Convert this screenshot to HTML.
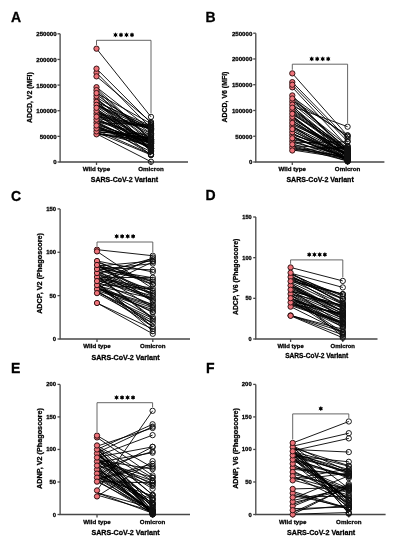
<!DOCTYPE html>
<html><head><meta charset="utf-8"><style>
html,body{margin:0;padding:0;background:#fff;}
svg{display:block;filter:blur(0.3px);}
text{font-family:"Liberation Sans", sans-serif;font-weight:bold;fill:#000;stroke:#000;stroke-width:0.28px;}
.L{font-size:14px;}
.t{font-size:5.9px;}
.c{font-size:6.2px;}
.ti{font-size:7px;}
.s{stroke:#000;stroke-width:0.9;fill:none;}
.ax{stroke:#474747;stroke-width:1.3;}
.br{stroke:#555;stroke-width:0.9;}
.ln{stroke:#000;stroke-width:0.9;}
.dw{fill:#ef7279;stroke:#2a0f0f;stroke-width:0.95;}
.do{fill:none;stroke:#111;stroke-width:0.95;}
</style></head><body>
<svg width="397" height="550" viewBox="0 0 397 550">
<defs><filter id="gs" x="0" y="0" width="397" height="550" filterUnits="userSpaceOnUse"><feColorMatrix type="saturate" values="0"/></filter></defs>
<rect width="397" height="550" fill="#fff"/>
<line x1="57.5" y1="162" x2="60.1" y2="162" class="ax"/>
<line x1="57.5" y1="136.36" x2="60.1" y2="136.36" class="ax"/>
<line x1="57.5" y1="110.72" x2="60.1" y2="110.72" class="ax"/>
<line x1="57.5" y1="85.08" x2="60.1" y2="85.08" class="ax"/>
<line x1="57.5" y1="59.44" x2="60.1" y2="59.44" class="ax"/>
<line x1="57.5" y1="33.8" x2="60.1" y2="33.8" class="ax"/>
<path d="M60.1 33.8 V162 H188" class="ax" fill="none"/>
<line x1="96.5" y1="162" x2="96.5" y2="165" class="ax"/>
<line x1="151" y1="162" x2="151" y2="165" class="ax"/>
<path d="M96.5 45.07 V40.3 H151 V113.27" class="br" fill="none"/>
<circle cx="115.5" cy="34.9" r="1.6" fill="#000"/>
<circle cx="121" cy="34.9" r="1.6" fill="#000"/>
<circle cx="126.5" cy="34.9" r="1.6" fill="#000"/>
<circle cx="132" cy="34.9" r="1.6" fill="#000"/>
<path d="M115.5 32.7V37.1M113.59 33.8L117.41 36M113.59 36L117.41 33.8M121 32.7V37.1M119.09 33.8L122.91 36M119.09 36L122.91 33.8M126.5 32.7V37.1M124.59 33.8L128.41 36M124.59 36L128.41 33.8M132 32.7V37.1M130.09 33.8L133.91 36M130.09 36L133.91 33.8" class="s"/>
<path d="M96.5 48.67L151 116.87M96.5 68.67L151 123.03M96.5 72.77L151 128.16M96.5 76.36L151 122M96.5 98.37L151 142.4M96.5 97.27L151 130.03M96.5 94.69L151 133.57M96.5 93.19L151 123.76M96.5 91.35L151 150.9M96.5 90.22L151 140.23M96.5 88.28L151 139.52M96.5 87.19L151 129.73M96.5 134.32L151 140.05M96.5 134.15L151 137.1M96.5 133.32L151 142.44M96.5 133.06L151 145.29M96.5 132.21L151 134.31M96.5 131.36L151 137.85M96.5 129.49L151 138.92M96.5 129.59L151 139.47M96.5 128.37L151 141.92M96.5 127.2L151 147.01M96.5 126.66L151 143.41M96.5 126.27L151 151.51M96.5 125.6L151 148.27M96.5 125.08L151 141.65M96.5 124.2L151 143M96.5 122.7L151 124.92M96.5 122.7L151 147.83M96.5 121.74L151 148.42M96.5 121.04L151 139.8M96.5 120.34L151 137.02M96.5 119.59L151 139.33M96.5 118.26L151 128.25M96.5 117.61L151 148.46M96.5 116.35L151 128.57M96.5 115.76L151 127.19M96.5 115.53L151 146.42M96.5 114.59L151 144.9M96.5 114.08L151 128.05M96.5 112.81L151 126.75M96.5 111.86L151 150.13M96.5 111.58L151 141.61M96.5 110.88L151 143.58M96.5 109.92L151 148.96M96.5 109.19L151 141.87M96.5 108.47L151 150.85M96.5 106.73L151 143.62M96.5 106.17L151 133.7M96.5 105.51L151 129.66M96.5 105.2L151 126.93M96.5 103.98L151 135.69M96.5 103.14L151 148.79M96.5 102.37L151 125.69M96.5 101.43L151 150.1M96.5 101.56L151 144.98M96.5 100.63L151 130.77M96.5 99.06L151 140.41M96.5 130.21L151 154.23M96.5 122L151 154.44M96.5 112.77L151 155.08M96.5 132.26L151 154.91M96.5 133.8L151 161.74" class="ln" fill="none"/>
<circle cx="96.5" cy="134.32" r="2.65" class="dw"/>
<circle cx="96.5" cy="113.7" r="2.65" class="dw"/>
<circle cx="96.5" cy="131.38" r="2.65" class="dw"/>
<circle cx="96.5" cy="128.43" r="2.65" class="dw"/>
<circle cx="96.5" cy="87.19" r="2.65" class="dw"/>
<circle cx="96.5" cy="72.77" r="2.65" class="dw"/>
<circle cx="96.5" cy="110.75" r="2.65" class="dw"/>
<circle cx="96.5" cy="98.97" r="2.65" class="dw"/>
<circle cx="96.5" cy="101.92" r="2.65" class="dw"/>
<circle cx="96.5" cy="48.67" r="2.65" class="dw"/>
<circle cx="96.5" cy="96.02" r="2.65" class="dw"/>
<circle cx="96.5" cy="122.54" r="2.65" class="dw"/>
<circle cx="96.5" cy="76.36" r="2.65" class="dw"/>
<circle cx="96.5" cy="90.13" r="2.65" class="dw"/>
<circle cx="96.5" cy="104.86" r="2.65" class="dw"/>
<circle cx="96.5" cy="119.59" r="2.65" class="dw"/>
<circle cx="96.5" cy="125.48" r="2.65" class="dw"/>
<circle cx="96.5" cy="93.08" r="2.65" class="dw"/>
<circle cx="96.5" cy="68.67" r="2.65" class="dw"/>
<circle cx="96.5" cy="116.65" r="2.65" class="dw"/>
<circle cx="96.5" cy="107.81" r="2.65" class="dw"/>
<circle cx="151" cy="126.93" r="2.65" class="do"/>
<circle cx="151" cy="128.16" r="2.65" class="do"/>
<circle cx="151" cy="140.05" r="2.65" class="do"/>
<circle cx="151" cy="128.05" r="2.65" class="do"/>
<circle cx="151" cy="147.83" r="2.65" class="do"/>
<circle cx="151" cy="154.23" r="2.65" class="do"/>
<circle cx="151" cy="122" r="2.65" class="do"/>
<circle cx="151" cy="150.1" r="2.65" class="do"/>
<circle cx="151" cy="148.42" r="2.65" class="do"/>
<circle cx="151" cy="139.8" r="2.65" class="do"/>
<circle cx="151" cy="124.92" r="2.65" class="do"/>
<circle cx="151" cy="148.96" r="2.65" class="do"/>
<circle cx="151" cy="150.9" r="2.65" class="do"/>
<circle cx="151" cy="148.79" r="2.65" class="do"/>
<circle cx="151" cy="128.25" r="2.65" class="do"/>
<circle cx="151" cy="147.01" r="2.65" class="do"/>
<circle cx="151" cy="125.69" r="2.65" class="do"/>
<circle cx="151" cy="150.13" r="2.65" class="do"/>
<circle cx="151" cy="123.03" r="2.65" class="do"/>
<circle cx="151" cy="154.44" r="2.65" class="do"/>
<circle cx="151" cy="139.33" r="2.65" class="do"/>
<circle cx="151" cy="141.92" r="2.65" class="do"/>
<circle cx="151" cy="128.57" r="2.65" class="do"/>
<circle cx="151" cy="141.87" r="2.65" class="do"/>
<circle cx="151" cy="150.85" r="2.65" class="do"/>
<circle cx="151" cy="142.44" r="2.65" class="do"/>
<circle cx="151" cy="148.27" r="2.65" class="do"/>
<circle cx="151" cy="130.03" r="2.65" class="do"/>
<circle cx="151" cy="137.1" r="2.65" class="do"/>
<circle cx="151" cy="139.52" r="2.65" class="do"/>
<circle cx="151" cy="143.41" r="2.65" class="do"/>
<circle cx="151" cy="129.73" r="2.65" class="do"/>
<circle cx="151" cy="140.41" r="2.65" class="do"/>
<circle cx="151" cy="161.74" r="2.65" class="do"/>
<circle cx="151" cy="144.98" r="2.65" class="do"/>
<circle cx="151" cy="137.85" r="2.65" class="do"/>
<circle cx="151" cy="116.87" r="2.65" class="do"/>
<circle cx="151" cy="139.47" r="2.65" class="do"/>
<circle cx="151" cy="144.9" r="2.65" class="do"/>
<circle cx="151" cy="126.75" r="2.65" class="do"/>
<circle cx="151" cy="143.62" r="2.65" class="do"/>
<circle cx="151" cy="141.65" r="2.65" class="do"/>
<circle cx="151" cy="123.76" r="2.65" class="do"/>
<circle cx="151" cy="143" r="2.65" class="do"/>
<circle cx="151" cy="142.4" r="2.65" class="do"/>
<circle cx="151" cy="134.31" r="2.65" class="do"/>
<circle cx="151" cy="127.19" r="2.65" class="do"/>
<circle cx="151" cy="130.77" r="2.65" class="do"/>
<circle cx="151" cy="145.29" r="2.65" class="do"/>
<circle cx="151" cy="137.02" r="2.65" class="do"/>
<circle cx="151" cy="143.58" r="2.65" class="do"/>
<circle cx="151" cy="148.46" r="2.65" class="do"/>
<circle cx="151" cy="138.92" r="2.65" class="do"/>
<circle cx="151" cy="151.51" r="2.65" class="do"/>
<circle cx="151" cy="140.23" r="2.65" class="do"/>
<circle cx="151" cy="135.69" r="2.65" class="do"/>
<circle cx="151" cy="133.57" r="2.65" class="do"/>
<circle cx="151" cy="146.42" r="2.65" class="do"/>
<circle cx="151" cy="155.08" r="2.65" class="do"/>
<circle cx="151" cy="141.61" r="2.65" class="do"/>
<circle cx="151" cy="154.91" r="2.65" class="do"/>
<circle cx="151" cy="133.7" r="2.65" class="do"/>
<circle cx="151" cy="129.66" r="2.65" class="do"/>
<line x1="253.2" y1="162" x2="255.8" y2="162" class="ax"/>
<line x1="253.2" y1="136.24" x2="255.8" y2="136.24" class="ax"/>
<line x1="253.2" y1="110.48" x2="255.8" y2="110.48" class="ax"/>
<line x1="253.2" y1="84.72" x2="255.8" y2="84.72" class="ax"/>
<line x1="253.2" y1="58.96" x2="255.8" y2="58.96" class="ax"/>
<line x1="253.2" y1="33.2" x2="255.8" y2="33.2" class="ax"/>
<path d="M255.8 33.2 V162 H384.4" class="ax" fill="none"/>
<line x1="292.3" y1="162" x2="292.3" y2="165" class="ax"/>
<line x1="347.6" y1="162" x2="347.6" y2="165" class="ax"/>
<path d="M292.3 69.79 V64.2 H347.6 V123.11" class="br" fill="none"/>
<circle cx="311.7" cy="58.9" r="1.6" fill="#000"/>
<circle cx="317.2" cy="58.9" r="1.6" fill="#000"/>
<circle cx="322.7" cy="58.9" r="1.6" fill="#000"/>
<circle cx="328.2" cy="58.9" r="1.6" fill="#000"/>
<path d="M311.7 56.7V61.1M309.79 57.8L313.61 60M309.79 60L313.61 57.8M317.2 56.7V61.1M315.29 57.8L319.11 60M315.29 60L319.11 57.8M322.7 56.7V61.1M320.79 57.8L324.61 60M320.79 60L324.61 57.8M328.2 56.7V61.1M326.29 57.8L330.11 60M326.29 60L330.11 57.8" class="s"/>
<path d="M292.3 73.39L347.6 135.72M292.3 82.14L347.6 138.82M292.3 84.72L347.6 141.39M292.3 87.3L347.6 146.54M292.3 106.36L347.6 126.71M292.3 100.18L347.6 135.21M292.3 97.08L347.6 136.76M292.3 108.16L347.6 154.95M292.3 106.38L347.6 151.77M292.3 103.67L347.6 148.21M292.3 101.55L347.6 145.88M292.3 99.78L347.6 150.02M292.3 97.86L347.6 150.37M292.3 95.44L347.6 154.33M292.3 150.48L347.6 146.8M292.3 149.98L347.6 158.48M292.3 148.84L347.6 157.21M292.3 147.81L347.6 157.14M292.3 145.85L347.6 157.79M292.3 145.63L347.6 149.05M292.3 143.73L347.6 161.05M292.3 142.81L347.6 141.74M292.3 142.19L347.6 156.16M292.3 140.5L347.6 160.2M292.3 139.9L347.6 148.81M292.3 137.85L347.6 158.16M292.3 137.11L347.6 158.5M292.3 136.36L347.6 158.07M292.3 134.82L347.6 153.26M292.3 134.23L347.6 154.22M292.3 133.04L347.6 159.74M292.3 131.02L347.6 156.83M292.3 130.93L347.6 159.28M292.3 128.94L347.6 159.44M292.3 127.86L347.6 155.84M292.3 126.66L347.6 159.08M292.3 126.36L347.6 154.1M292.3 124.87L347.6 149.5M292.3 123.2L347.6 149.74M292.3 123.03L347.6 154.47M292.3 120.95L347.6 156M292.3 120.41L347.6 154.9M292.3 119.01L347.6 152.18M292.3 117.47L347.6 156.36M292.3 117.2L347.6 154.68M292.3 116.08L347.6 156.98M292.3 114.32L347.6 148.8M292.3 113.49L347.6 152.59M292.3 112.6L347.6 151.37M292.3 111.44L347.6 150.91M292.3 110.37L347.6 148.66M292.3 108.55L347.6 150.65M292.3 146.54L347.6 161.03M292.3 136.24L347.6 160.52M292.3 125.94L347.6 161.48M292.3 115.63L347.6 160.96M292.3 105.33L347.6 160.88" class="ln" fill="none"/>
<circle cx="292.3" cy="101.56" r="2.65" class="dw"/>
<circle cx="292.3" cy="126.02" r="2.65" class="dw"/>
<circle cx="292.3" cy="147.42" r="2.65" class="dw"/>
<circle cx="292.3" cy="141.31" r="2.65" class="dw"/>
<circle cx="292.3" cy="95.44" r="2.65" class="dw"/>
<circle cx="292.3" cy="82.14" r="2.65" class="dw"/>
<circle cx="292.3" cy="73.39" r="2.65" class="dw"/>
<circle cx="292.3" cy="135.19" r="2.65" class="dw"/>
<circle cx="292.3" cy="110.73" r="2.65" class="dw"/>
<circle cx="292.3" cy="87.3" r="2.65" class="dw"/>
<circle cx="292.3" cy="119.9" r="2.65" class="dw"/>
<circle cx="292.3" cy="84.72" r="2.65" class="dw"/>
<circle cx="292.3" cy="116.85" r="2.65" class="dw"/>
<circle cx="292.3" cy="122.96" r="2.65" class="dw"/>
<circle cx="292.3" cy="104.62" r="2.65" class="dw"/>
<circle cx="292.3" cy="107.67" r="2.65" class="dw"/>
<circle cx="292.3" cy="132.13" r="2.65" class="dw"/>
<circle cx="292.3" cy="98.5" r="2.65" class="dw"/>
<circle cx="292.3" cy="113.79" r="2.65" class="dw"/>
<circle cx="292.3" cy="144.36" r="2.65" class="dw"/>
<circle cx="292.3" cy="150.48" r="2.65" class="dw"/>
<circle cx="292.3" cy="138.25" r="2.65" class="dw"/>
<circle cx="292.3" cy="129.08" r="2.65" class="dw"/>
<circle cx="347.6" cy="149.05" r="2.65" class="do"/>
<circle cx="347.6" cy="156.36" r="2.65" class="do"/>
<circle cx="347.6" cy="157.14" r="2.65" class="do"/>
<circle cx="347.6" cy="161.48" r="2.65" class="do"/>
<circle cx="347.6" cy="160.88" r="2.65" class="do"/>
<circle cx="347.6" cy="154.95" r="2.65" class="do"/>
<circle cx="347.6" cy="156.98" r="2.65" class="do"/>
<circle cx="347.6" cy="150.37" r="2.65" class="do"/>
<circle cx="347.6" cy="149.5" r="2.65" class="do"/>
<circle cx="347.6" cy="135.21" r="2.65" class="do"/>
<circle cx="347.6" cy="126.71" r="2.65" class="do"/>
<circle cx="347.6" cy="158.07" r="2.65" class="do"/>
<circle cx="347.6" cy="158.48" r="2.65" class="do"/>
<circle cx="347.6" cy="146.8" r="2.65" class="do"/>
<circle cx="347.6" cy="148.21" r="2.65" class="do"/>
<circle cx="347.6" cy="159.08" r="2.65" class="do"/>
<circle cx="347.6" cy="160.2" r="2.65" class="do"/>
<circle cx="347.6" cy="150.91" r="2.65" class="do"/>
<circle cx="347.6" cy="148.66" r="2.65" class="do"/>
<circle cx="347.6" cy="149.74" r="2.65" class="do"/>
<circle cx="347.6" cy="148.8" r="2.65" class="do"/>
<circle cx="347.6" cy="159.44" r="2.65" class="do"/>
<circle cx="347.6" cy="151.37" r="2.65" class="do"/>
<circle cx="347.6" cy="148.81" r="2.65" class="do"/>
<circle cx="347.6" cy="150.02" r="2.65" class="do"/>
<circle cx="347.6" cy="157.21" r="2.65" class="do"/>
<circle cx="347.6" cy="135.72" r="2.65" class="do"/>
<circle cx="347.6" cy="160.96" r="2.65" class="do"/>
<circle cx="347.6" cy="150.65" r="2.65" class="do"/>
<circle cx="347.6" cy="154.47" r="2.65" class="do"/>
<circle cx="347.6" cy="153.26" r="2.65" class="do"/>
<circle cx="347.6" cy="154.1" r="2.65" class="do"/>
<circle cx="347.6" cy="145.88" r="2.65" class="do"/>
<circle cx="347.6" cy="157.79" r="2.65" class="do"/>
<circle cx="347.6" cy="141.74" r="2.65" class="do"/>
<circle cx="347.6" cy="156.16" r="2.65" class="do"/>
<circle cx="347.6" cy="141.39" r="2.65" class="do"/>
<circle cx="347.6" cy="138.82" r="2.65" class="do"/>
<circle cx="347.6" cy="151.77" r="2.65" class="do"/>
<circle cx="347.6" cy="154.22" r="2.65" class="do"/>
<circle cx="347.6" cy="152.18" r="2.65" class="do"/>
<circle cx="347.6" cy="158.5" r="2.65" class="do"/>
<circle cx="347.6" cy="154.68" r="2.65" class="do"/>
<circle cx="347.6" cy="152.59" r="2.65" class="do"/>
<circle cx="347.6" cy="161.05" r="2.65" class="do"/>
<circle cx="347.6" cy="154.9" r="2.65" class="do"/>
<circle cx="347.6" cy="154.33" r="2.65" class="do"/>
<circle cx="347.6" cy="155.84" r="2.65" class="do"/>
<circle cx="347.6" cy="161.03" r="2.65" class="do"/>
<circle cx="347.6" cy="158.16" r="2.65" class="do"/>
<circle cx="347.6" cy="159.74" r="2.65" class="do"/>
<circle cx="347.6" cy="160.52" r="2.65" class="do"/>
<circle cx="347.6" cy="159.28" r="2.65" class="do"/>
<circle cx="347.6" cy="156.83" r="2.65" class="do"/>
<circle cx="347.6" cy="136.76" r="2.65" class="do"/>
<circle cx="347.6" cy="146.54" r="2.65" class="do"/>
<circle cx="347.6" cy="156" r="2.65" class="do"/>
<line x1="57.5" y1="339" x2="60.1" y2="339" class="ax"/>
<line x1="57.5" y1="295.63" x2="60.1" y2="295.63" class="ax"/>
<line x1="57.5" y1="252.27" x2="60.1" y2="252.27" class="ax"/>
<line x1="57.5" y1="208.9" x2="60.1" y2="208.9" class="ax"/>
<path d="M60.1 208.9 V339 H190" class="ax" fill="none"/>
<line x1="97" y1="339" x2="97" y2="342" class="ax"/>
<line x1="152.8" y1="339" x2="152.8" y2="342" class="ax"/>
<path d="M97 246.06 V242 H152.8 V252.14" class="br" fill="none"/>
<circle cx="116.65" cy="236.3" r="1.6" fill="#000"/>
<circle cx="122.15" cy="236.3" r="1.6" fill="#000"/>
<circle cx="127.65" cy="236.3" r="1.6" fill="#000"/>
<circle cx="133.15" cy="236.3" r="1.6" fill="#000"/>
<path d="M116.65 234.1V238.5M114.74 235.2L118.56 237.4M114.74 237.4L118.56 235.2M122.15 234.1V238.5M120.24 235.2L124.06 237.4M120.24 237.4L124.06 235.2M127.65 234.1V238.5M125.74 235.2L129.56 237.4M125.74 237.4L129.56 235.2M133.15 234.1V238.5M131.24 235.2L135.06 237.4M131.24 237.4L135.06 235.2" class="s"/>
<path d="M97 249.66L152.8 255.74M97 251.4L152.8 288.69M97 303.01L152.8 329.03M97 303.01L152.8 333.8M97 285.23L152.8 257.47M97 280.02L152.8 259.21M97 273.95L152.8 258.34M97 288.69L152.8 261.81M97 266.14L152.8 260.94M97 269.61L152.8 263.54M97 290.43L152.8 326.86M97 286.96L152.8 323.39M97 283.49L152.8 331.19M97 293.12L152.8 323.39M97 291.88L152.8 320.76M97 291.79L152.8 318.57M97 290.48L152.8 309.66M97 289.1L152.8 307.81M97 288.79L152.8 305.89M97 288.04L152.8 304.52M97 287.3L152.8 317.13M97 286.66L152.8 311.67M97 285.99L152.8 298.43M97 284.42L152.8 288.89M97 284.4L152.8 312.59M97 282.64L152.8 326.86M97 282.92L152.8 326.86M97 281.89L152.8 304.82M97 280.28L152.8 295.99M97 280.25L152.8 298.42M97 279.47L152.8 292.64M97 278.45L152.8 290.26M97 277.76L152.8 288.38M97 277.22L152.8 277.68M97 276.12L152.8 318.89M97 275.52L152.8 317.86M97 273.56L152.8 299.88M97 273.62L152.8 307.82M97 272.53L152.8 301.01M97 271.24L152.8 294.35M97 271.4L152.8 298.48M97 270.42L152.8 279.76M97 268.92L152.8 290.77M97 268.49L152.8 277.77M97 267.23L152.8 269.92M97 266.12L152.8 281.89M97 265.54L152.8 295.63M97 264.92L152.8 293.95M97 264.04L152.8 284.71M97 263.95L152.8 301.87M97 262.23L152.8 281.64M97 261.37L152.8 284.19M97 260.98L152.8 271.93" class="ln" fill="none"/>
<circle cx="97" cy="260.98" r="2.65" class="dw"/>
<circle cx="97" cy="289.1" r="2.65" class="dw"/>
<circle cx="97" cy="277.05" r="2.65" class="dw"/>
<circle cx="97" cy="285.09" r="2.65" class="dw"/>
<circle cx="97" cy="249.66" r="2.65" class="dw"/>
<circle cx="97" cy="281.07" r="2.65" class="dw"/>
<circle cx="97" cy="273.03" r="2.65" class="dw"/>
<circle cx="97" cy="269.01" r="2.65" class="dw"/>
<circle cx="97" cy="303.01" r="2.65" class="dw"/>
<circle cx="97" cy="251.4" r="2.65" class="dw"/>
<circle cx="97" cy="264.99" r="2.65" class="dw"/>
<circle cx="97" cy="293.12" r="2.65" class="dw"/>
<circle cx="152.8" cy="298.42" r="2.65" class="do"/>
<circle cx="152.8" cy="331.19" r="2.65" class="do"/>
<circle cx="152.8" cy="259.21" r="2.65" class="do"/>
<circle cx="152.8" cy="288.38" r="2.65" class="do"/>
<circle cx="152.8" cy="257.47" r="2.65" class="do"/>
<circle cx="152.8" cy="333.8" r="2.65" class="do"/>
<circle cx="152.8" cy="311.67" r="2.65" class="do"/>
<circle cx="152.8" cy="323.39" r="2.65" class="do"/>
<circle cx="152.8" cy="292.64" r="2.65" class="do"/>
<circle cx="152.8" cy="294.31" r="2.65" class="do"/>
<circle cx="152.8" cy="281.64" r="2.65" class="do"/>
<circle cx="152.8" cy="304.52" r="2.65" class="do"/>
<circle cx="152.8" cy="295.99" r="2.65" class="do"/>
<circle cx="152.8" cy="290.77" r="2.65" class="do"/>
<circle cx="152.8" cy="279.76" r="2.65" class="do"/>
<circle cx="152.8" cy="284.71" r="2.65" class="do"/>
<circle cx="152.8" cy="263.54" r="2.65" class="do"/>
<circle cx="152.8" cy="300.14" r="2.65" class="do"/>
<circle cx="152.8" cy="326.86" r="2.65" class="do"/>
<circle cx="152.8" cy="312.59" r="2.65" class="do"/>
<circle cx="152.8" cy="277.68" r="2.65" class="do"/>
<circle cx="152.8" cy="260.94" r="2.65" class="do"/>
<circle cx="152.8" cy="305.89" r="2.65" class="do"/>
<circle cx="152.8" cy="318.89" r="2.65" class="do"/>
<circle cx="152.8" cy="255.74" r="2.65" class="do"/>
<circle cx="152.8" cy="284.19" r="2.65" class="do"/>
<circle cx="152.8" cy="317.13" r="2.65" class="do"/>
<circle cx="152.8" cy="271.93" r="2.65" class="do"/>
<circle cx="152.8" cy="269.92" r="2.65" class="do"/>
<circle cx="152.8" cy="261.81" r="2.65" class="do"/>
<circle cx="152.8" cy="329.03" r="2.65" class="do"/>
<circle cx="152.8" cy="309.66" r="2.65" class="do"/>
<circle cx="152.8" cy="307.81" r="2.65" class="do"/>
<circle cx="152.8" cy="320.76" r="2.65" class="do"/>
<circle cx="152.8" cy="301.87" r="2.65" class="do"/>
<line x1="253.2" y1="339" x2="255.8" y2="339" class="ax"/>
<line x1="253.2" y1="298.33" x2="255.8" y2="298.33" class="ax"/>
<line x1="253.2" y1="257.67" x2="255.8" y2="257.67" class="ax"/>
<line x1="253.2" y1="217" x2="255.8" y2="217" class="ax"/>
<path d="M255.8 217 V339 H377.5" class="ax" fill="none"/>
<line x1="290.6" y1="339" x2="290.6" y2="342" class="ax"/>
<line x1="342.8" y1="339" x2="342.8" y2="342" class="ax"/>
<path d="M290.6 263.83 V259.9 H342.8 V277.33" class="br" fill="none"/>
<circle cx="309.25" cy="254.6" r="1.6" fill="#000"/>
<circle cx="314.45" cy="254.6" r="1.6" fill="#000"/>
<circle cx="319.65" cy="254.6" r="1.6" fill="#000"/>
<circle cx="324.85" cy="254.6" r="1.6" fill="#000"/>
<path d="M309.25 252.4V256.8M307.34 253.5L311.16 255.7M307.34 255.7L311.16 253.5M314.45 252.4V256.8M312.54 253.5L316.36 255.7M312.54 255.7L316.36 253.5M319.65 252.4V256.8M317.74 253.5L321.56 255.7M317.74 255.7L321.56 253.5M324.85 252.4V256.8M322.94 253.5L326.76 255.7M322.94 255.7L326.76 253.5" class="s"/>
<path d="M290.6 267.43L342.8 280.93M290.6 273.12L342.8 287.43M290.6 315.41L342.8 331.68M290.6 315.41L342.8 334.93M290.6 315.82L342.8 337.78M290.6 315.41L342.8 329.24M290.6 294.27L342.8 336.56M290.6 299.96L342.8 334.12M290.6 306.66L342.8 332.49M290.6 305.4L342.8 323.47M290.6 304.39L342.8 323.55M290.6 304.33L342.8 313.34M290.6 303.78L342.8 322.27M290.6 302.15L342.8 323.32M290.6 302.31L342.8 326.96M290.6 301.17L342.8 322.12M290.6 300.89L342.8 314.31M290.6 299.88L342.8 315.18M290.6 298.16L342.8 320.27M290.6 298.35L342.8 316.23M290.6 297.59L342.8 332.49M290.6 296.98L342.8 327.11M290.6 294.98L342.8 325.97M290.6 295.23L342.8 318.57M290.6 294.05L342.8 305.98M290.6 293.73L342.8 318.32M290.6 293.01L342.8 315.07M290.6 291.33L342.8 313.08M290.6 290.75L342.8 305.43M290.6 290.83L342.8 305.62M290.6 289.9L342.8 324.79M290.6 289.07L342.8 308.07M290.6 287.61L342.8 311.53M290.6 286.44L342.8 316.77M290.6 285.91L342.8 314.19M290.6 285.44L342.8 310.9M290.6 285.3L342.8 311.47M290.6 283.76L342.8 311.31M290.6 283.06L342.8 319.13M290.6 282.29L342.8 307.22M290.6 281.4L342.8 294.27M290.6 280.44L342.8 304.27M290.6 280.22L342.8 294.27M290.6 279.16L342.8 299M290.6 278.04L342.8 294.27M290.6 277.56L342.8 308.36M290.6 276.68L342.8 302.34M290.6 276.1L342.8 298.77M290.6 275.81L342.8 303.19M290.6 274.34L342.8 296.38M290.6 273.34L342.8 298.72M290.6 272.78L342.8 304.45" class="ln" fill="none"/>
<circle cx="290.6" cy="267.43" r="2.65" class="dw"/>
<circle cx="290.6" cy="306.66" r="2.65" class="dw"/>
<circle cx="290.6" cy="315.41" r="2.65" class="dw"/>
<circle cx="290.6" cy="293.95" r="2.65" class="dw"/>
<circle cx="290.6" cy="285.49" r="2.65" class="dw"/>
<circle cx="290.6" cy="289.72" r="2.65" class="dw"/>
<circle cx="290.6" cy="315.82" r="2.65" class="dw"/>
<circle cx="290.6" cy="302.42" r="2.65" class="dw"/>
<circle cx="290.6" cy="277.02" r="2.65" class="dw"/>
<circle cx="290.6" cy="298.19" r="2.65" class="dw"/>
<circle cx="290.6" cy="281.25" r="2.65" class="dw"/>
<circle cx="290.6" cy="272.78" r="2.65" class="dw"/>
<circle cx="342.8" cy="319.13" r="2.65" class="do"/>
<circle cx="342.8" cy="322.27" r="2.65" class="do"/>
<circle cx="342.8" cy="303.19" r="2.65" class="do"/>
<circle cx="342.8" cy="331.68" r="2.65" class="do"/>
<circle cx="342.8" cy="320.27" r="2.65" class="do"/>
<circle cx="342.8" cy="311.53" r="2.65" class="do"/>
<circle cx="342.8" cy="334.12" r="2.65" class="do"/>
<circle cx="342.8" cy="307.22" r="2.65" class="do"/>
<circle cx="342.8" cy="323.47" r="2.65" class="do"/>
<circle cx="342.8" cy="316.23" r="2.65" class="do"/>
<circle cx="342.8" cy="313.08" r="2.65" class="do"/>
<circle cx="342.8" cy="298.72" r="2.65" class="do"/>
<circle cx="342.8" cy="311.31" r="2.65" class="do"/>
<circle cx="342.8" cy="305.98" r="2.65" class="do"/>
<circle cx="342.8" cy="310.9" r="2.65" class="do"/>
<circle cx="342.8" cy="316.77" r="2.65" class="do"/>
<circle cx="342.8" cy="299" r="2.65" class="do"/>
<circle cx="342.8" cy="302.34" r="2.65" class="do"/>
<circle cx="342.8" cy="318.32" r="2.65" class="do"/>
<circle cx="342.8" cy="314.19" r="2.65" class="do"/>
<circle cx="342.8" cy="325.97" r="2.65" class="do"/>
<circle cx="342.8" cy="294.27" r="2.65" class="do"/>
<circle cx="342.8" cy="305.43" r="2.65" class="do"/>
<circle cx="342.8" cy="298.77" r="2.65" class="do"/>
<circle cx="342.8" cy="287.43" r="2.65" class="do"/>
<circle cx="342.8" cy="322.12" r="2.65" class="do"/>
<circle cx="342.8" cy="304.27" r="2.65" class="do"/>
<circle cx="342.8" cy="327.11" r="2.65" class="do"/>
<circle cx="342.8" cy="305.62" r="2.65" class="do"/>
<circle cx="342.8" cy="332.49" r="2.65" class="do"/>
<circle cx="342.8" cy="315.18" r="2.65" class="do"/>
<circle cx="342.8" cy="296.38" r="2.65" class="do"/>
<circle cx="342.8" cy="304.45" r="2.65" class="do"/>
<circle cx="342.8" cy="324.79" r="2.65" class="do"/>
<circle cx="342.8" cy="326.96" r="2.65" class="do"/>
<circle cx="342.8" cy="311.47" r="2.65" class="do"/>
<circle cx="342.8" cy="337.78" r="2.65" class="do"/>
<circle cx="342.8" cy="332.49" r="2.65" class="do"/>
<circle cx="342.8" cy="336.56" r="2.65" class="do"/>
<circle cx="342.8" cy="323.32" r="2.65" class="do"/>
<circle cx="342.8" cy="280.93" r="2.65" class="do"/>
<circle cx="342.8" cy="329.24" r="2.65" class="do"/>
<circle cx="342.8" cy="308.07" r="2.65" class="do"/>
<circle cx="342.8" cy="294.27" r="2.65" class="do"/>
<circle cx="342.8" cy="294.27" r="2.65" class="do"/>
<circle cx="342.8" cy="315.07" r="2.65" class="do"/>
<circle cx="342.8" cy="318.57" r="2.65" class="do"/>
<circle cx="342.8" cy="323.55" r="2.65" class="do"/>
<circle cx="342.8" cy="314.31" r="2.65" class="do"/>
<circle cx="342.8" cy="334.93" r="2.65" class="do"/>
<circle cx="342.8" cy="308.36" r="2.65" class="do"/>
<circle cx="342.8" cy="313.34" r="2.65" class="do"/>
<line x1="57.5" y1="514.5" x2="60.1" y2="514.5" class="ax"/>
<line x1="57.5" y1="481.98" x2="60.1" y2="481.98" class="ax"/>
<line x1="57.5" y1="449.45" x2="60.1" y2="449.45" class="ax"/>
<line x1="57.5" y1="416.92" x2="60.1" y2="416.92" class="ax"/>
<line x1="57.5" y1="384.4" x2="60.1" y2="384.4" class="ax"/>
<path d="M60.1 384.4 V514.5 H190" class="ax" fill="none"/>
<line x1="97" y1="514.5" x2="97" y2="517.5" class="ax"/>
<line x1="152.6" y1="514.5" x2="152.6" y2="517.5" class="ax"/>
<path d="M97 431.99 V402.7 H152.6 V407.21" class="br" fill="none"/>
<circle cx="116.55" cy="397.5" r="1.6" fill="#000"/>
<circle cx="122.05" cy="397.5" r="1.6" fill="#000"/>
<circle cx="127.55" cy="397.5" r="1.6" fill="#000"/>
<circle cx="133.05" cy="397.5" r="1.6" fill="#000"/>
<path d="M116.55 395.3V399.7M114.64 396.4L118.46 398.6M114.64 398.6L118.46 396.4M122.05 395.3V399.7M120.14 396.4L123.96 398.6M120.14 398.6L123.96 396.4M127.55 395.3V399.7M125.64 396.4L129.46 398.6M125.64 398.6L129.46 396.4M133.05 395.3V399.7M131.14 396.4L134.96 398.6M131.14 398.6L134.96 396.4" class="s"/>
<path d="M97 435.59L152.6 467.66M97 437.42L152.6 475.47M97 490.43L152.6 410.81M97 449.45L152.6 424.28M97 452.7L152.6 426.68M97 446.2L152.6 427.98M97 455.95L152.6 435.14M97 475.47L152.6 446.85M97 462.46L152.6 452.7M97 496.42L152.6 461.16M97 492.77L152.6 508M97 494.99L152.6 511.25M97 492.77L152.6 513.2M97 446.85L152.6 494.99M97 457.26L152.6 446.85M97 468.96L152.6 451.4M97 481.58L152.6 482.84M97 481.63L152.6 510.36M97 480.44L152.6 513.51M97 479.67L152.6 466.09M97 478.83L152.6 463.87M97 478.37L152.6 510.99M97 477.64L152.6 495.69M97 476.26L152.6 514.28M97 475.69L152.6 509.71M97 474.54L152.6 499.73M97 473.53L152.6 511.83M97 473.27L152.6 504.19M97 472.21L152.6 511.04M97 471.03L152.6 511.54M97 470.28L152.6 513.19M97 470.03L152.6 502.92M97 468.83L152.6 502.99M97 468.72L152.6 511.17M97 467.21L152.6 513.91M97 466.71L152.6 513.53M97 466.04L152.6 505.33M97 464.86L152.6 485.92M97 464.07L152.6 503.5M97 463.45L152.6 497.94M97 462.75L152.6 482.92M97 461.63L152.6 480.79M97 461.01L152.6 477.55M97 459.99L152.6 469.15M97 459.2L152.6 512.67M97 458.75L152.6 498.73M97 457.73L152.6 512.63M97 456.72L152.6 506.79M97 455.77L152.6 484.86M97 454.96L152.6 488.74M97 454.2L152.6 512.79M97 453.96L152.6 500.14M97 452.42L152.6 511.15M97 452.19L152.6 513.88M97 451.5L152.6 507.7M97 450.76L152.6 514.48M97 449.84L152.6 494.71M97 448.39L152.6 510.79M97 448.45L152.6 504.8M97 447.31L152.6 481.13M97 446.42L152.6 514.3M97 445.47L152.6 477.76" class="ln" fill="none"/>
<circle cx="97" cy="469.58" r="2.65" class="dw"/>
<circle cx="97" cy="453.51" r="2.65" class="dw"/>
<circle cx="97" cy="437.42" r="2.65" class="dw"/>
<circle cx="97" cy="473.6" r="2.65" class="dw"/>
<circle cx="97" cy="435.59" r="2.65" class="dw"/>
<circle cx="97" cy="461.54" r="2.65" class="dw"/>
<circle cx="97" cy="465.56" r="2.65" class="dw"/>
<circle cx="97" cy="449.49" r="2.65" class="dw"/>
<circle cx="97" cy="490.43" r="2.65" class="dw"/>
<circle cx="97" cy="496.42" r="2.65" class="dw"/>
<circle cx="97" cy="477.62" r="2.65" class="dw"/>
<circle cx="97" cy="481.63" r="2.65" class="dw"/>
<circle cx="97" cy="457.52" r="2.65" class="dw"/>
<circle cx="97" cy="445.47" r="2.65" class="dw"/>
<circle cx="152.6" cy="510.99" r="2.65" class="do"/>
<circle cx="152.6" cy="513.88" r="2.65" class="do"/>
<circle cx="152.6" cy="469.15" r="2.65" class="do"/>
<circle cx="152.6" cy="513.91" r="2.65" class="do"/>
<circle cx="152.6" cy="506.79" r="2.65" class="do"/>
<circle cx="152.6" cy="466.09" r="2.65" class="do"/>
<circle cx="152.6" cy="507.7" r="2.65" class="do"/>
<circle cx="152.6" cy="446.85" r="2.65" class="do"/>
<circle cx="152.6" cy="451.4" r="2.65" class="do"/>
<circle cx="152.6" cy="424.28" r="2.65" class="do"/>
<circle cx="152.6" cy="494.71" r="2.65" class="do"/>
<circle cx="152.6" cy="514.48" r="2.65" class="do"/>
<circle cx="152.6" cy="513.51" r="2.65" class="do"/>
<circle cx="152.6" cy="512.79" r="2.65" class="do"/>
<circle cx="152.6" cy="503.5" r="2.65" class="do"/>
<circle cx="152.6" cy="475.47" r="2.65" class="do"/>
<circle cx="152.6" cy="498.73" r="2.65" class="do"/>
<circle cx="152.6" cy="500.14" r="2.65" class="do"/>
<circle cx="152.6" cy="509.71" r="2.65" class="do"/>
<circle cx="152.6" cy="495.69" r="2.65" class="do"/>
<circle cx="152.6" cy="494.99" r="2.65" class="do"/>
<circle cx="152.6" cy="477.76" r="2.65" class="do"/>
<circle cx="152.6" cy="513.19" r="2.65" class="do"/>
<circle cx="152.6" cy="510.36" r="2.65" class="do"/>
<circle cx="152.6" cy="511.04" r="2.65" class="do"/>
<circle cx="152.6" cy="497.94" r="2.65" class="do"/>
<circle cx="152.6" cy="482.84" r="2.65" class="do"/>
<circle cx="152.6" cy="511.17" r="2.65" class="do"/>
<circle cx="152.6" cy="512.67" r="2.65" class="do"/>
<circle cx="152.6" cy="461.16" r="2.65" class="do"/>
<circle cx="152.6" cy="511.15" r="2.65" class="do"/>
<circle cx="152.6" cy="477.55" r="2.65" class="do"/>
<circle cx="152.6" cy="505.33" r="2.65" class="do"/>
<circle cx="152.6" cy="499.73" r="2.65" class="do"/>
<circle cx="152.6" cy="513.2" r="2.65" class="do"/>
<circle cx="152.6" cy="514.3" r="2.65" class="do"/>
<circle cx="152.6" cy="481.13" r="2.65" class="do"/>
<circle cx="152.6" cy="426.68" r="2.65" class="do"/>
<circle cx="152.6" cy="480.79" r="2.65" class="do"/>
<circle cx="152.6" cy="488.74" r="2.65" class="do"/>
<circle cx="152.6" cy="502.99" r="2.65" class="do"/>
<circle cx="152.6" cy="514.28" r="2.65" class="do"/>
<circle cx="152.6" cy="435.14" r="2.65" class="do"/>
<circle cx="152.6" cy="446.85" r="2.65" class="do"/>
<circle cx="152.6" cy="427.98" r="2.65" class="do"/>
<circle cx="152.6" cy="463.87" r="2.65" class="do"/>
<circle cx="152.6" cy="485.92" r="2.65" class="do"/>
<circle cx="152.6" cy="511.83" r="2.65" class="do"/>
<circle cx="152.6" cy="504.8" r="2.65" class="do"/>
<circle cx="152.6" cy="484.86" r="2.65" class="do"/>
<circle cx="152.6" cy="511.54" r="2.65" class="do"/>
<circle cx="152.6" cy="502.92" r="2.65" class="do"/>
<circle cx="152.6" cy="482.92" r="2.65" class="do"/>
<circle cx="152.6" cy="513.53" r="2.65" class="do"/>
<circle cx="152.6" cy="512.63" r="2.65" class="do"/>
<circle cx="152.6" cy="467.66" r="2.65" class="do"/>
<circle cx="152.6" cy="410.81" r="2.65" class="do"/>
<circle cx="152.6" cy="504.19" r="2.65" class="do"/>
<circle cx="152.6" cy="452.7" r="2.65" class="do"/>
<circle cx="152.6" cy="510.79" r="2.65" class="do"/>
<circle cx="152.6" cy="511.25" r="2.65" class="do"/>
<circle cx="152.6" cy="508" r="2.65" class="do"/>
<line x1="253.2" y1="514.5" x2="255.8" y2="514.5" class="ax"/>
<line x1="253.2" y1="481.98" x2="255.8" y2="481.98" class="ax"/>
<line x1="253.2" y1="449.45" x2="255.8" y2="449.45" class="ax"/>
<line x1="253.2" y1="416.92" x2="255.8" y2="416.92" class="ax"/>
<line x1="253.2" y1="384.4" x2="255.8" y2="384.4" class="ax"/>
<path d="M255.8 384.4 V514.5 H385.6" class="ax" fill="none"/>
<line x1="292.7" y1="514.5" x2="292.7" y2="517.5" class="ax"/>
<line x1="348.8" y1="514.5" x2="348.8" y2="517.5" class="ax"/>
<path d="M292.7 439.34 V413.9 H348.8 V417.88" class="br" fill="none"/>
<circle cx="320.75" cy="408.6" r="1.6" fill="#000"/>
<path d="M320.75 406.4V410.8M318.84 407.5L322.66 409.7M318.84 409.7L322.66 407.5" class="s"/>
<path d="M292.7 442.94L348.8 421.48M292.7 446.2L348.8 433.19M292.7 450.75L348.8 438.39M292.7 449.45L348.8 452.05M292.7 455.95L348.8 461.81M292.7 449.27L348.8 503.48M292.7 458.43L348.8 507.94M292.7 459.15L348.8 499.44M292.7 457.4L348.8 499.87M292.7 455.21L348.8 499.59M292.7 445.86L348.8 513.73M292.7 450.56L348.8 505.16M292.7 454.55L348.8 501.01M292.7 457.29L348.8 504.81M292.7 452.21L348.8 500.42M292.7 450.08L348.8 513.12M292.7 445.82L348.8 507.61M292.7 455.49L348.8 472.26M292.7 447.76L348.8 465.7M292.7 456.56L348.8 472.3M292.7 452.34L348.8 472.53M292.7 453.76L348.8 473.89M292.7 451.67L348.8 466.29M292.7 445.85L348.8 471.68M292.7 453.68L348.8 469.54M292.7 480.35L348.8 473.09M292.7 478.77L348.8 468.75M292.7 477.19L348.8 492.74M292.7 475.61L348.8 502.94M292.7 474.03L348.8 489.55M292.7 472.45L348.8 490.74M292.7 470.87L348.8 497.65M292.7 469.29L348.8 474.86M292.7 467.71L348.8 475.71M292.7 466.13L348.8 490.53M292.7 464.55L348.8 488.69M292.7 462.97L348.8 507.59M292.7 461.39L348.8 476.72M292.7 459.81L348.8 476.12M292.7 458.23L348.8 478.1M292.7 514.49L348.8 486.37M292.7 512.63L348.8 486.55M292.7 510.59L348.8 505.27M292.7 508.64L348.8 507.05M292.7 506.4L348.8 483.95M292.7 504.5L348.8 485.35M292.7 502.61L348.8 489.28M292.7 500.54L348.8 488.02M292.7 498.66L348.8 475.75M292.7 496.97L348.8 496.21M292.7 495.02L348.8 507.92M292.7 492.99L348.8 509.14M292.7 491.36L348.8 508.43M292.7 488.95L348.8 487.45M292.7 514.17L348.8 512.55M292.7 445.55L348.8 488.48M292.7 480.02L348.8 494.99" class="ln" fill="none"/>
<circle cx="292.7" cy="467.88" r="2.65" class="dw"/>
<circle cx="292.7" cy="505.98" r="2.65" class="dw"/>
<circle cx="292.7" cy="493.21" r="2.65" class="dw"/>
<circle cx="292.7" cy="501.72" r="2.65" class="dw"/>
<circle cx="292.7" cy="497.46" r="2.65" class="dw"/>
<circle cx="292.7" cy="472.04" r="2.65" class="dw"/>
<circle cx="292.7" cy="463.72" r="2.65" class="dw"/>
<circle cx="292.7" cy="447.1" r="2.65" class="dw"/>
<circle cx="292.7" cy="476.19" r="2.65" class="dw"/>
<circle cx="292.7" cy="459.57" r="2.65" class="dw"/>
<circle cx="292.7" cy="442.94" r="2.65" class="dw"/>
<circle cx="292.7" cy="488.95" r="2.65" class="dw"/>
<circle cx="292.7" cy="514.49" r="2.65" class="dw"/>
<circle cx="292.7" cy="480.35" r="2.65" class="dw"/>
<circle cx="292.7" cy="455.41" r="2.65" class="dw"/>
<circle cx="292.7" cy="510.23" r="2.65" class="dw"/>
<circle cx="292.7" cy="451.26" r="2.65" class="dw"/>
<circle cx="348.8" cy="499.87" r="2.65" class="do"/>
<circle cx="348.8" cy="473.89" r="2.65" class="do"/>
<circle cx="348.8" cy="452.05" r="2.65" class="do"/>
<circle cx="348.8" cy="469.54" r="2.65" class="do"/>
<circle cx="348.8" cy="475.71" r="2.65" class="do"/>
<circle cx="348.8" cy="476.12" r="2.65" class="do"/>
<circle cx="348.8" cy="497.65" r="2.65" class="do"/>
<circle cx="348.8" cy="471.68" r="2.65" class="do"/>
<circle cx="348.8" cy="468.75" r="2.65" class="do"/>
<circle cx="348.8" cy="478.1" r="2.65" class="do"/>
<circle cx="348.8" cy="490.53" r="2.65" class="do"/>
<circle cx="348.8" cy="472.53" r="2.65" class="do"/>
<circle cx="348.8" cy="513.73" r="2.65" class="do"/>
<circle cx="348.8" cy="505.16" r="2.65" class="do"/>
<circle cx="348.8" cy="488.69" r="2.65" class="do"/>
<circle cx="348.8" cy="494.99" r="2.65" class="do"/>
<circle cx="348.8" cy="466.29" r="2.65" class="do"/>
<circle cx="348.8" cy="513.12" r="2.65" class="do"/>
<circle cx="348.8" cy="473.09" r="2.65" class="do"/>
<circle cx="348.8" cy="472.3" r="2.65" class="do"/>
<circle cx="348.8" cy="507.59" r="2.65" class="do"/>
<circle cx="348.8" cy="500.42" r="2.65" class="do"/>
<circle cx="348.8" cy="508.43" r="2.65" class="do"/>
<circle cx="348.8" cy="475.75" r="2.65" class="do"/>
<circle cx="348.8" cy="474.86" r="2.65" class="do"/>
<circle cx="348.8" cy="486.37" r="2.65" class="do"/>
<circle cx="348.8" cy="472.26" r="2.65" class="do"/>
<circle cx="348.8" cy="489.55" r="2.65" class="do"/>
<circle cx="348.8" cy="461.81" r="2.65" class="do"/>
<circle cx="348.8" cy="421.48" r="2.65" class="do"/>
<circle cx="348.8" cy="489.28" r="2.65" class="do"/>
<circle cx="348.8" cy="512.55" r="2.65" class="do"/>
<circle cx="348.8" cy="486.55" r="2.65" class="do"/>
<circle cx="348.8" cy="438.39" r="2.65" class="do"/>
<circle cx="348.8" cy="487.45" r="2.65" class="do"/>
<circle cx="348.8" cy="476.72" r="2.65" class="do"/>
<circle cx="348.8" cy="507.05" r="2.65" class="do"/>
<circle cx="348.8" cy="509.14" r="2.65" class="do"/>
<circle cx="348.8" cy="504.81" r="2.65" class="do"/>
<circle cx="348.8" cy="465.7" r="2.65" class="do"/>
<circle cx="348.8" cy="499.44" r="2.65" class="do"/>
<circle cx="348.8" cy="505.27" r="2.65" class="do"/>
<circle cx="348.8" cy="503.48" r="2.65" class="do"/>
<circle cx="348.8" cy="488.48" r="2.65" class="do"/>
<circle cx="348.8" cy="492.74" r="2.65" class="do"/>
<circle cx="348.8" cy="507.92" r="2.65" class="do"/>
<circle cx="348.8" cy="496.21" r="2.65" class="do"/>
<circle cx="348.8" cy="433.19" r="2.65" class="do"/>
<circle cx="348.8" cy="502.94" r="2.65" class="do"/>
<circle cx="348.8" cy="490.74" r="2.65" class="do"/>
<circle cx="348.8" cy="507.61" r="2.65" class="do"/>
<circle cx="348.8" cy="488.02" r="2.65" class="do"/>
<circle cx="348.8" cy="485.35" r="2.65" class="do"/>
<circle cx="348.8" cy="501.01" r="2.65" class="do"/>
<circle cx="348.8" cy="499.59" r="2.65" class="do"/>
<circle cx="348.8" cy="483.95" r="2.65" class="do"/>
<circle cx="348.8" cy="507.94" r="2.65" class="do"/>
<g filter="url(#gs)">
<text x="11.0" y="22.2" class="L">A</text>
<text x="56.6" y="164.45" class="t" style="font-size:6.1px" text-anchor="end">0</text>
<text x="56.6" y="138.81" class="t" style="font-size:6.1px" text-anchor="end">50000</text>
<text x="56.6" y="113.17" class="t" style="font-size:6.1px" text-anchor="end">100000</text>
<text x="56.6" y="87.53" class="t" style="font-size:6.1px" text-anchor="end">150000</text>
<text x="56.6" y="61.89" class="t" style="font-size:6.1px" text-anchor="end">200000</text>
<text x="56.6" y="36.25" class="t" style="font-size:6.1px" text-anchor="end">250000</text>
<text x="96.5" y="171.4" class="c" style="font-size:6.2px" text-anchor="middle">Wild type</text>
<text x="151" y="171.4" class="c" style="font-size:6.2px" text-anchor="middle">Omicron</text>
<text x="124.4" y="182.1" class="ti" style="font-size:7.05px" text-anchor="middle">SARS-CoV-2 Variant</text>
<text transform="translate(31.7 97.6) rotate(-90)" class="ti" style="font-size:6.95px" text-anchor="middle">ADCD, V2 (MFI)</text>
<text x="205.6" y="22.2" class="L">B</text>
<text x="252.3" y="164.45" class="t" style="font-size:6.1px" text-anchor="end">0</text>
<text x="252.3" y="138.69" class="t" style="font-size:6.1px" text-anchor="end">50000</text>
<text x="252.3" y="112.93" class="t" style="font-size:6.1px" text-anchor="end">100000</text>
<text x="252.3" y="87.17" class="t" style="font-size:6.1px" text-anchor="end">150000</text>
<text x="252.3" y="61.41" class="t" style="font-size:6.1px" text-anchor="end">200000</text>
<text x="252.3" y="35.65" class="t" style="font-size:6.1px" text-anchor="end">250000</text>
<text x="292.3" y="171.4" class="c" style="font-size:6.2px" text-anchor="middle">Wild type</text>
<text x="347.6" y="171.4" class="c" style="font-size:6.2px" text-anchor="middle">Omicron</text>
<text x="320.1" y="182.1" class="ti" style="font-size:7.05px" text-anchor="middle">SARS-CoV-2 Variant</text>
<text transform="translate(227.2 97.05) rotate(-90)" class="ti" style="font-size:6.95px" text-anchor="middle">ADCD, V6 (MFI)</text>
<text x="11.0" y="200.9" class="L">C</text>
<text x="56" y="341" class="t" style="font-size:5.9px" text-anchor="end">0</text>
<text x="56" y="297.63" class="t" style="font-size:5.9px" text-anchor="end">50</text>
<text x="56" y="254.27" class="t" style="font-size:5.9px" text-anchor="end">100</text>
<text x="56" y="210.9" class="t" style="font-size:5.9px" text-anchor="end">150</text>
<text x="97" y="348.3" class="c" style="font-size:6.2px" text-anchor="middle">Wild type</text>
<text x="152.8" y="348.3" class="c" style="font-size:6.2px" text-anchor="middle">Omicron</text>
<text x="125.5" y="360" class="ti" style="font-size:7.15px" text-anchor="middle">SARS-CoV-2 Variant</text>
<text transform="translate(42.3 273.45) rotate(-90)" class="ti" style="font-size:7.25px" text-anchor="middle">ADCP, V2 (Phagoscore)</text>
<text x="205.6" y="200.4" class="L">D</text>
<text x="251.7" y="341" class="t" style="font-size:5.6px" text-anchor="end">0</text>
<text x="251.7" y="300.33" class="t" style="font-size:5.6px" text-anchor="end">50</text>
<text x="251.7" y="259.67" class="t" style="font-size:5.6px" text-anchor="end">100</text>
<text x="251.7" y="219" class="t" style="font-size:5.6px" text-anchor="end">150</text>
<text x="290.6" y="348.4" class="c" style="font-size:5.95px" text-anchor="middle">Wild type</text>
<text x="342.8" y="348.4" class="c" style="font-size:5.95px" text-anchor="middle">Omicron</text>
<text x="316.7" y="358" class="ti" style="font-size:6.6px" text-anchor="middle">SARS-CoV-2 Variant</text>
<text transform="translate(238.3 276.9) rotate(-90)" class="ti" style="font-size:6.85px" text-anchor="middle">ADCP, V6 (Phagoscore)</text>
<text x="11.0" y="373.2" class="L">E</text>
<text x="56" y="516.5" class="t" style="font-size:5.9px" text-anchor="end">0</text>
<text x="56" y="483.98" class="t" style="font-size:5.9px" text-anchor="end">50</text>
<text x="56" y="451.45" class="t" style="font-size:5.9px" text-anchor="end">100</text>
<text x="56" y="418.92" class="t" style="font-size:5.9px" text-anchor="end">150</text>
<text x="56" y="386.4" class="t" style="font-size:5.9px" text-anchor="end">200</text>
<text x="97" y="523.8" class="c" style="font-size:6.2px" text-anchor="middle">Wild type</text>
<text x="152.6" y="523.8" class="c" style="font-size:6.2px" text-anchor="middle">Omicron</text>
<text x="125.5" y="535.2" class="ti" style="font-size:7.15px" text-anchor="middle">SARS-CoV-2 Variant</text>
<text transform="translate(42.2 448.55) rotate(-90)" class="ti" style="font-size:7.25px" text-anchor="middle">ADNP, V2 (Phagoscore)</text>
<text x="206.1" y="373.2" class="L">F</text>
<text x="251.7" y="516.5" class="t" style="font-size:5.9px" text-anchor="end">0</text>
<text x="251.7" y="483.98" class="t" style="font-size:5.9px" text-anchor="end">50</text>
<text x="251.7" y="451.45" class="t" style="font-size:5.9px" text-anchor="end">100</text>
<text x="251.7" y="418.92" class="t" style="font-size:5.9px" text-anchor="end">150</text>
<text x="251.7" y="386.4" class="t" style="font-size:5.9px" text-anchor="end">200</text>
<text x="292.7" y="523.6" class="c" style="font-size:6.2px" text-anchor="middle">Wild type</text>
<text x="348.8" y="523.6" class="c" style="font-size:6.2px" text-anchor="middle">Omicron</text>
<text x="321.1" y="535.2" class="ti" style="font-size:7.15px" text-anchor="middle">SARS-CoV-2 Variant</text>
<text transform="translate(237.5 448.45) rotate(-90)" class="ti" style="font-size:7.25px" text-anchor="middle">ADNP, V6 (Phagoscore)</text>
</g>
</svg>
</body></html>
